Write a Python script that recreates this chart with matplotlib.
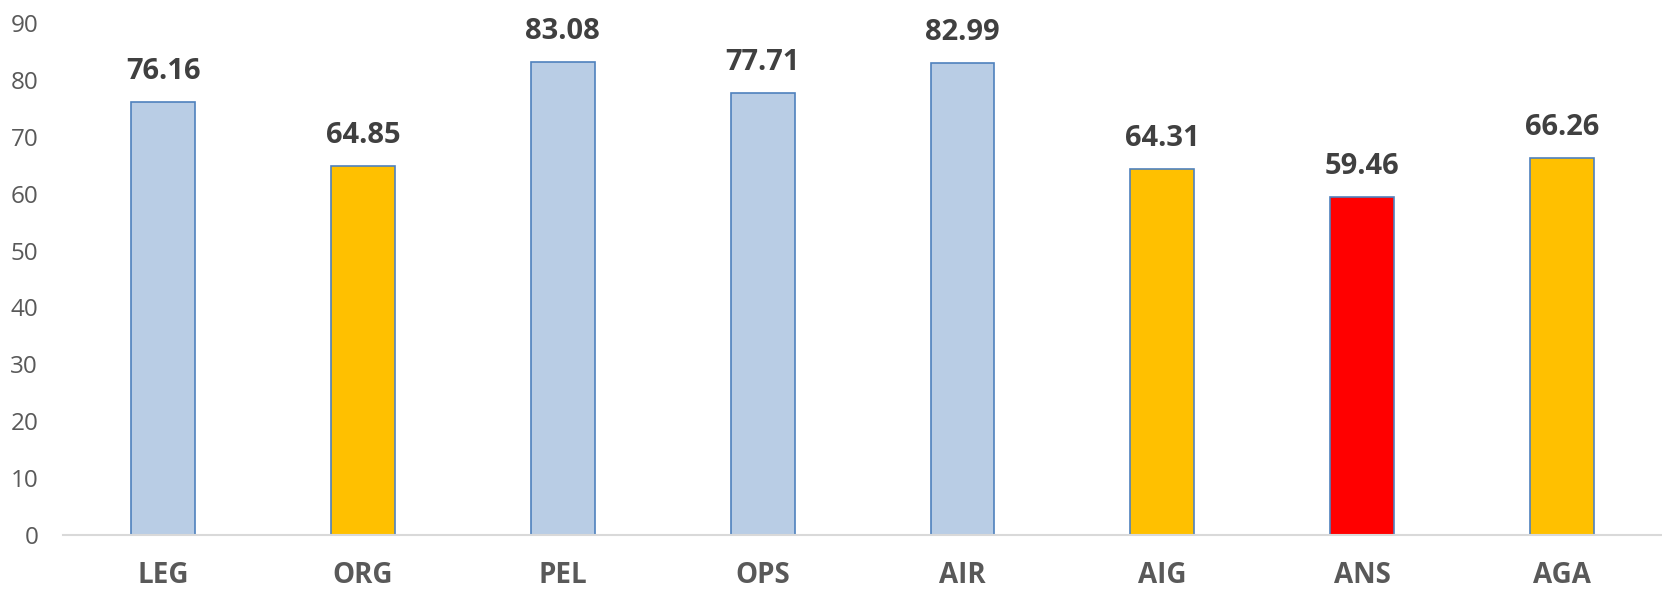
import matplotlib.pyplot as plt

categories = ['LEG', 'ORG', 'PEL', 'OPS', 'AIR', 'AIG', 'ANS', 'AGA']
values = [76.16, 64.85, 83.08, 77.71, 82.99, 64.31, 59.46, 66.26]
colors = ['#B9CDE5', '#FFC000', '#B9CDE5', '#B9CDE5', '#B9CDE5', '#FFC000', '#FF0000', '#FFC000']

plt.rcParams['font.family'] = ['Open Sans', 'DejaVu Sans']

fig = plt.figure(figsize=(16.62, 5.89), dpi=100)
ax = fig.add_axes([0.038, 0.0917, 0.962, 0.8693])

x = range(len(categories))
ax.bar(x, values, width=0.32, color=colors, edgecolor='#4F81BD', linewidth=1.2)

for i, v in enumerate(values):
    ax.text(i, v + 2.8, f'{v:.2f}', ha='center', va='bottom',
            fontsize=21, fontweight='bold', color='#404040')

ax.set_xlim(-0.5, len(categories) - 0.5)
ax.set_ylim(0, 90)
ax.set_yticks(range(0, 91, 10))
ax.set_xticks(list(x))
ax.set_xticklabels(categories, fontsize=20, fontweight='bold', color='#595959')
ax.tick_params(axis='y', length=0, pad=18, labelsize=17.5, labelcolor='#595959')
ax.tick_params(axis='x', length=0, pad=19)

for s in ['top', 'right', 'left']:
    ax.spines[s].set_visible(False)
ax.spines['bottom'].set_color('#D9D9D9')
ax.spines['bottom'].set_linewidth(1.5)

fig.savefig('out.png', dpi=100)
